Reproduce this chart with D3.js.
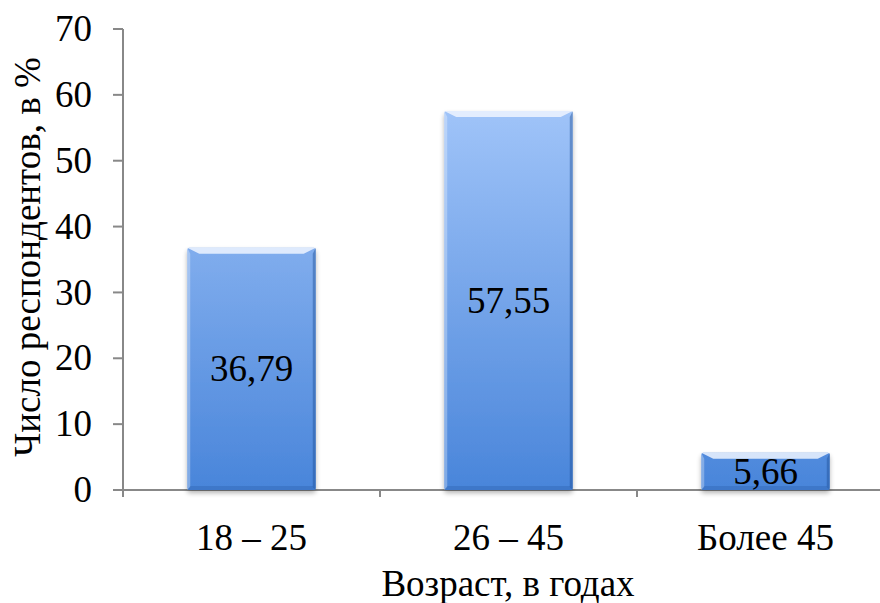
<!DOCTYPE html>
<html>
<head>
<meta charset="utf-8">
<script src="https://cdn.jsdelivr.net/npm/d3@7"></script>
<style>
  html, body { margin: 0; padding: 0; background: #fff; }
</style>
</head>
<body>
<svg id="chart" width="880" height="603"></svg>
<script>
// Age groups and share of respondents, %
const categories = ["18 – 25", "26 – 45", "Более 45"];
const values = [36.79, 57.55, 5.66];
const valueLabels = ["36,79", "57,55", "5,66"];
const yTicks = [0, 10, 20, 30, 40, 50, 60, 70];
const xTitle = "Возраст, в годах";
const yTitle = "Число респондентов, в %";

const FONT = '"Liberation Serif", "Times New Roman", serif';
const FS = 37;

const svg = d3.select("#chart");

const x = d3.scaleBand()
  .domain(categories)
  .range([123, 894])
  .paddingInner(0.5)
  .paddingOuter(0.25);

const y = d3.scaleLinear().domain([0, 70]).range([490, 29]);

// gradients
const defs = svg.append("defs");
const grad = defs.append("linearGradient")
  .attr("id", "barFill")
  .attr("gradientUnits", "userSpaceOnUse")
  .attr("x1", 0).attr("x2", 0)
  .attr("y1", y(70)).attr("y2", y(0));
grad.append("stop").attr("offset", "0%").attr("stop-color", "#b2d1ff");
grad.append("stop").attr("offset", "100%").attr("stop-color", "#4985da");

const shadow = defs.append("filter").attr("id", "shadow")
  .attr("x", "-10%").attr("y", "-10%").attr("width", "120%").attr("height", "130%");
shadow.append("feGaussianBlur").attr("in", "SourceAlpha").attr("stdDeviation", 2.5);
shadow.append("feOffset").attr("dx", 0).attr("dy", 3).attr("result", "b");
shadow.append("feComponentTransfer").append("feFuncA").attr("type", "linear").attr("slope", 0.3);
const merge = shadow.append("feMerge");
merge.append("feMergeNode");
merge.append("feMergeNode").attr("in", "SourceGraphic");

// y axis
const yAxis = svg.append("g").attr("transform", "translate(123,0)");
yAxis.append("line")
  .attr("x1", 0).attr("x2", 0).attr("y1", y(70)).attr("y2", y(0) + 7)
  .attr("stroke", "#888").attr("stroke-width", 2);
yAxis.selectAll("line.tick").data(yTicks).join("line")
  .attr("class", "tick")
  .attr("x1", -10).attr("x2", 0)
  .attr("y1", d => y(d)).attr("y2", d => y(d))
  .attr("stroke", "#888").attr("stroke-width", 2);
yAxis.selectAll("text").data(yTicks).join("text")
  .attr("x", -31).attr("y", d => y(d))
  .attr("dy", "0.33em")
  .attr("text-anchor", "end")
  .style("font-family", FONT)
  .style("font-size", FS + "px")
  .text(d => d);

// x axis
const xAxis = svg.append("g");
xAxis.append("line")
  .attr("x1", 113).attr("x2", 880).attr("y1", y(0)).attr("y2", y(0))
  .attr("stroke", "#888").attr("stroke-width", 2);
const boundaries = categories.map(c => x(c) - x.step() * 0.25);
xAxis.selectAll("line.tick").data(boundaries.slice(1)).join("line")
  .attr("class", "tick")
  .attr("x1", d => d).attr("x2", d => d)
  .attr("y1", y(0)).attr("y2", y(0) + 7)
  .attr("stroke", "#888").attr("stroke-width", 2);
xAxis.selectAll("text").data(categories).join("text")
  .attr("x", d => x(d) + x.bandwidth() / 2)
  .attr("y", 550)
  .attr("text-anchor", "middle")
  .style("font-family", FONT)
  .style("font-size", FS + "px")
  .text(d => d);

// bars
const bw = x.bandwidth();
const bev = 6;
const bars = svg.append("g").selectAll("g.bar").data(categories).join("g")
  .attr("class", "bar");

bars.append("rect")
  .attr("x", d => x(d))
  .attr("y", (d, i) => y(values[i]))
  .attr("width", bw)
  .attr("height", (d, i) => y(0) - y(values[i]))
  .attr("rx", 2)
  .attr("fill", "url(#barFill)")
  .attr("filter", "url(#shadow)");

// top bevel highlight
bars.append("path")
  .attr("d", (d, i) => {
    const x0 = x(d), x1 = x0 + bw, t = y(values[i]);
    return `M${x0},${t} L${x1},${t} L${x1 - bev * 2},${t + bev} L${x0 + bev * 2},${t + bev} Z`;
  })
  .attr("fill", "#eef5ff").attr("opacity", 0.85);
// left bevel
bars.append("path")
  .attr("d", (d, i) => {
    const x0 = x(d), t = y(values[i]), b = y(0);
    return `M${x0},${t} L${x0 + 3},${t + bev} L${x0 + 3},${b - 3} L${x0},${b} Z`;
  })
  .attr("fill", "#ffffff").attr("opacity", 0.3);
// right bevel
bars.append("path")
  .attr("d", (d, i) => {
    const x1 = x(d) + bw, t = y(values[i]), b = y(0);
    return `M${x1},${t} L${x1 - 3},${t + bev} L${x1 - 3},${b - 3} L${x1},${b} Z`;
  })
  .attr("fill", "#1f4f96").attr("opacity", 0.45);
// bottom bevel
bars.append("path")
  .attr("d", (d, i) => {
    const x0 = x(d), x1 = x0 + bw, b = y(0);
    return `M${x0},${b} L${x1},${b} L${x1 - 3},${b - 4} L${x0 + 3},${b - 4} Z`;
  })
  .attr("fill", "#2a5ea8").attr("opacity", 0.35);

// value labels, centred in each bar
bars.append("text")
  .attr("x", d => x(d) + bw / 2)
  .attr("y", (d, i) => (y(values[i]) + y(0)) / 2)
  .attr("dy", "0.33em")
  .attr("text-anchor", "middle")
  .style("font-family", FONT)
  .style("font-size", FS + "px")
  .text((d, i) => valueLabels[i]);

// axis titles
svg.append("text")
  .attr("x", 508).attr("y", 596)
  .attr("text-anchor", "middle")
  .style("font-family", FONT)
  .style("font-size", FS + "px")
  .text(xTitle);

svg.append("text")
  .attr("transform", "translate(40,257) rotate(-90)")
  .attr("text-anchor", "middle")
  .style("font-family", FONT)
  .style("font-size", FS + "px")
  .text(yTitle);
</script>
</body>
</html>
